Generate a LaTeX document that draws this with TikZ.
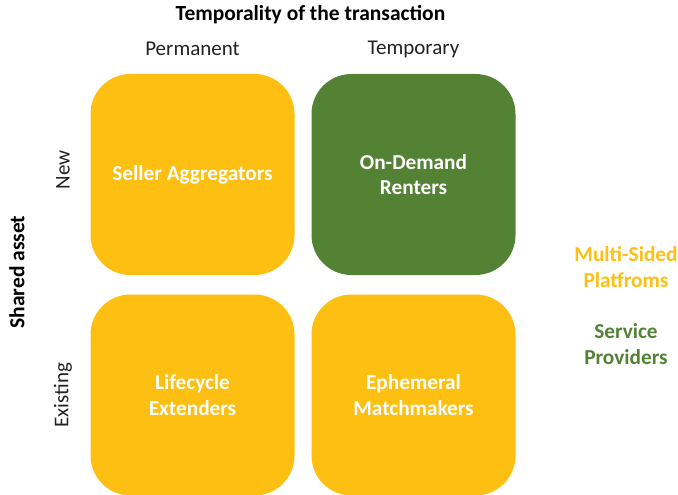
\documentclass[tikz,border=0pt]{standalone}
\usepackage{fontspec}
\setmainfont{Carlito}
\definecolor{myyellow}{HTML}{FCBF12}
\definecolor{mygreen}{HTML}{548235}
\definecolor{mytext}{HTML}{222222}
\begin{document}
\begin{tikzpicture}[x=1pt,y=-1pt,
  cell/.style={rounded corners=40pt, minimum width=204pt, minimum height=201pt, inner sep=0pt, align=center, text=white, font=\fontsize{21.3}{25.5}\selectfont\bfseries},
  head/.style={font=\fontsize{21}{24}\selectfont, text=mytext},
  bighead/.style={font=\fontsize{21.5}{24}\selectfont\bfseries, text=black},
  legend/.style={align=center, font=\fontsize{21.3}{26}\selectfont\bfseries}]
\useasboundingbox (0,0) rectangle (678,495);
\node[cell, fill=myyellow] (sa) at (192.5,174.5) {Seller Aggregators};
\node[cell, fill=mygreen] (odr) at (413.5,174.5) {On-Demand\\Renters};
\node[cell, fill=myyellow] (le) at (192.5,395) {Lifecycle\\Extenders};
\node[cell, fill=myyellow] (em) at (413.5,395) {Ephemeral\\Matchmakers};
\node[bighead] (title) at (310.5,15) {Temporality of the transaction};
\node[head] (perm) at (192.5,49) {Permanent};
\node[head] (temp) at (413.5,49) {Temporary};
\node[bighead, rotate=90] (shared) at (17,272) {Shared asset};
\node[head, rotate=90] (new) at (63,170) {New};
\node[head, rotate=90] (exist) at (63,395) {Existing};
\node[legend, text=myyellow] (msp) at (626,267) {Multi-Sided\\Platfroms};
\node[legend, text=mygreen] (sp) at (626,344) {Service\\Providers};
\end{tikzpicture}
\end{document}
